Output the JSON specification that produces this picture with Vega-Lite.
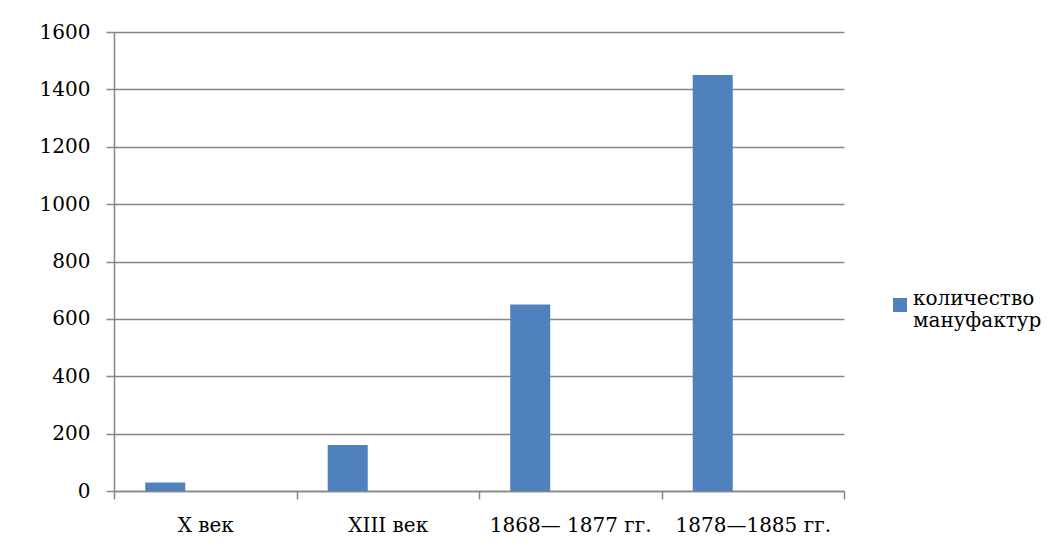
{
  "$schema": "https://vega.github.io/schema/vega-lite/v6.json",
  "width": 730,
  "height": 459,
  "autosize": "none",
  "padding": {"left": 114, "top": 32, "right": 217, "bottom": 66},
  "background": "white",
  "config": {
    "view": {"stroke": null},
    "font": "DejaVu Serif"
  },
  "data": {
    "values": [
      {"period": "X век", "series": "количество мануфактур", "value": 30},
      {"period": "XIII век", "series": "количество мануфактур", "value": 160},
      {"period": "1868— 1877 гг.", "series": "количество мануфактур", "value": 650},
      {"period": "1878—1885 гг.", "series": "количество мануфактур", "value": 1450}
    ]
  },
  "mark": {"type": "bar"},
  "encoding": {
    "x": {
      "field": "period",
      "type": "nominal",
      "sort": null,
      "scale": {"paddingInner": 0, "paddingOuter": 0},
      "axis": {
        "title": null,
        "labelAngle": 0,
        "labelFont": "DejaVu Serif",
        "labelFontSize": 20,
        "labelColor": "black",
        "labelPadding": 16,
        "tickBand": "extent",
        "tickSize": 8,
        "tickColor": "#868686",
        "domainColor": "#868686",
        "domainWidth": 1.5,
        "tickWidth": 1.5,
        "grid": false
      }
    },
    "xOffset": {
      "field": "series",
      "type": "nominal",
      "scale": {"domain": ["количество мануфактур", "_"], "paddingInner": 0.5, "paddingOuter": 0.39}
    },
    "y": {
      "field": "value",
      "type": "quantitative",
      "scale": {"domain": [0, 1600], "nice": false},
      "axis": {
        "title": null,
        "format": "d",
        "values": [0, 200, 400, 600, 800, 1000, 1200, 1400, 1600],
        "labelFont": "DejaVu Serif",
        "labelFontSize": 20,
        "labelColor": "black",
        "labelPadding": 16,
        "tickSize": 8,
        "tickColor": "#868686",
        "domainColor": "#868686",
        "domainWidth": 1.5,
        "tickWidth": 1.5,
        "gridColor": "#868686",
        "gridWidth": 1.3
      }
    },
    "color": {
      "field": "series",
      "type": "nominal",
      "scale": {"domain": ["количество мануфактур"], "range": ["#4F81BD"]},
      "legend": {
        "title": null,
        "orient": "none",
        "legendX": 776,
        "legendY": 263,
        "padding": 0,
        "symbolType": "square",
        "symbolSize": 196,
        "symbolStrokeWidth": 0,
        "labelFont": "DejaVu Serif",
        "labelFontSize": 20,
        "labelColor": "black",
        "labelLimit": 300,
        "labelOffset": 3,
        "labelBaseline": "alphabetic",
        "labelLineHeight": 32,
        "labelExpr": "split(datum.label, ' ')"
      }
    }
  }
}
